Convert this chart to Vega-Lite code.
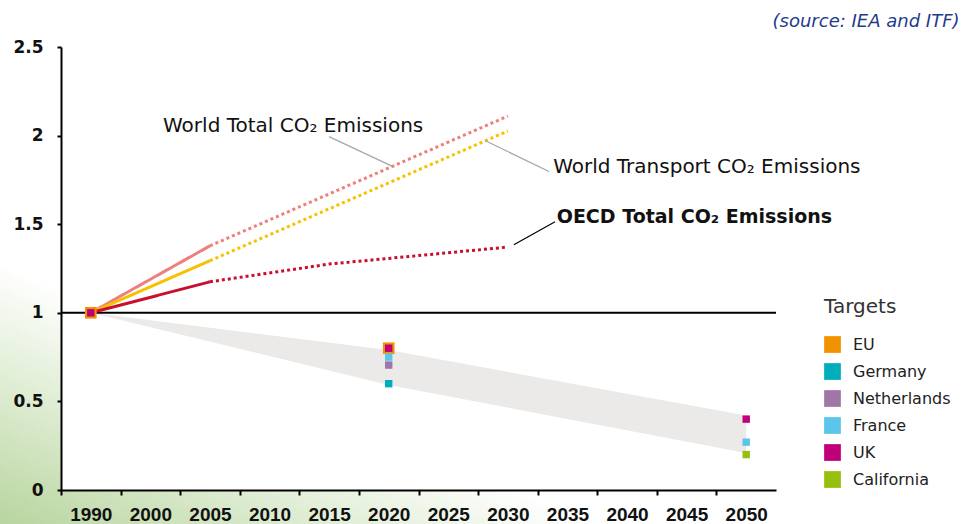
{
  "$schema": "https://vega.github.io/schema/vega-lite/v6.json",
  "width": 715,
  "height": 443,
  "autosize": {"type": "none"},
  "padding": {"left": 61, "top": 47, "right": 203, "bottom": 34},
  "background": "#ffffff",
  "config": {
    "view": {"stroke": null},
    "font": "DejaVu Sans"
  },
  "datasets": {
    "lines": [
      {"series": "World Total", "seg": "solid", "year": 1990, "value": 1.0},
      {"series": "World Total", "seg": "solid", "year": 2005, "value": 1.378},
      {"series": "World Total", "seg": "dotted", "year": 2005, "value": 1.378},
      {"series": "World Total", "seg": "dotted", "year": 2030, "value": 2.11},
      {"series": "World Transport", "seg": "solid", "year": 1990, "value": 1.0},
      {"series": "World Transport", "seg": "solid", "year": 2005, "value": 1.294},
      {"series": "World Transport", "seg": "dotted", "year": 2005, "value": 1.294},
      {"series": "World Transport", "seg": "dotted", "year": 2030, "value": 2.026},
      {"series": "OECD Total", "seg": "solid", "year": 1990, "value": 1.0},
      {"series": "OECD Total", "seg": "solid", "year": 2005, "value": 1.175},
      {"series": "OECD Total", "seg": "dotted", "year": 2005, "value": 1.175},
      {"series": "OECD Total", "seg": "dotted", "year": 2015, "value": 1.275},
      {"series": "OECD Total", "seg": "dotted", "year": 2030, "value": 1.371}
    ],
    "band": [
      {"year": 1990, "lo": 1.0, "hi": 1.0},
      {"year": 2020, "lo": 0.593, "hi": 0.79},
      {"year": 2050, "lo": 0.209, "hi": 0.42}
    ],
    "targets": [
      {"target": "EU", "year": 1990, "value": 1.0},
      {"target": "EU", "year": 2020, "value": 0.8},
      {"target": "UK", "year": 1990, "value": 1.0},
      {"target": "UK", "year": 2020, "value": 0.8},
      {"target": "France", "year": 2020, "value": 0.75},
      {"target": "Netherlands", "year": 2020, "value": 0.705},
      {"target": "Germany", "year": 2020, "value": 0.6},
      {"target": "UK", "year": 2050, "value": 0.4},
      {"target": "France", "year": 2050, "value": 0.27},
      {"target": "California", "year": 2050, "value": 0.2}
    ],
    "labels": [
      {"series": "World Total", "label": "World Total CO₂ Emissions", "year": 2001.06, "value": 2.022},
      {"series": "World Transport", "label": "World Transport CO₂ Emissions", "year": 2033.8, "value": 1.787},
      {"series": "OECD Total", "label": "OECD Total CO₂ Emissions", "year": 2034.1, "value": 1.507}
    ],
    "leaders": [
      {"series": "World Total", "year": 2014.99, "value": 1.994, "year2": 2020.36, "value2": 1.825},
      {"series": "World Transport", "year": 2028.08, "value": 1.972, "year2": 2033.45, "value2": 1.797},
      {"series": "OECD Total", "year": 2030.5, "value": 1.384, "year2": 2033.96, "value2": 1.514}
    ]
  },
  "layer": [
    {
      "data": {"values": [{}]},
      "mark": {
        "type": "rect",
        "clip": false,
        "fill": {
          "gradient": "linear",
          "x1": 0, "y1": 1,
          "x2": 1, "y2": 0,
          "stops": [
            {"offset": 0, "color": "#b7d49d"},
            {"offset": 0.25, "color": "#dcebcf"},
            {"offset": 0.5, "color": "#ffffff"}
          ]
        }
      },
      "encoding": {
        "x": {
          "datum": 1974,
          "type": "quantitative",
          "scale": {"domain": [1985, 1990, 2000, 2052.5], "range": [0, 29.79, 89.375, 715], "nice": false, "zero": false},
          "axis": {
            "title": null,
            "zindex": 2,
            "values": [1990, 2000, 2005, 2010, 2015, 2020, 2025, 2030, 2035, 2040, 2045, 2050, 2055],
            "labelExpr": "datum.value <= 2050 ? '' + datum.value : ''",
            "ticks": true,
            "tickOffset": -29.79,
            "labelOffset": 29.79,
            "tickSize": 5,
            "tickWidth": 2,
            "tickColor": "#000000",
            "domainColor": "#000000",
            "domainWidth": 2,
            "grid": false,
            "labelFont": "Liberation Sans",
            "labelFontWeight": "bold",
            "labelFontSize": 19,
            "labelColor": "#111111",
            "labelPadding": 10,
            "labelOverlap": false,
            "labelFlush": false,
            "labelBound": false
          }
        },
        "x2": {"datum": 2037.7},
        "y": {
          "datum": -0.2,
          "type": "quantitative",
          "scale": {"domain": [0, 2.5], "nice": false, "zero": false},
          "axis": {
            "title": null,
            "zindex": 2,
            "values": [0, 0.5, 1, 1.5, 2, 2.5],
            "format": "~g",
            "ticks": true,
            "tickSize": 4,
            "tickWidth": 2,
            "tickColor": "#000000",
            "domainColor": "#000000",
            "domainWidth": 2,
            "grid": false,
            "labelFont": "DejaVu Sans",
            "labelFontSize": 17,
            "labelFontWeight": "bold",
            "labelColor": "#111111",
            "labelPadding": 14
          }
        },
        "y2": {"datum": 1.3}
      }
    },
    {
      "data": {"values": [{}]},
      "mark": {"type": "rect", "fill": "#ffffff"},
      "encoding": {
        "x": {"datum": 1985, "type": "quantitative"},
        "x2": {"datum": 2052.5},
        "y": {"datum": 0, "type": "quantitative"},
        "y2": {"datum": 2.5}
      }
    },
    {
      "data": {"name": "band"},
      "mark": {"type": "area", "color": "#ebeae8", "opacity": 1},
      "encoding": {
        "x": {"field": "year", "type": "quantitative"},
        "y": {"field": "hi", "type": "quantitative"},
        "y2": {"field": "lo"}
      }
    },
    {
      "data": {"values": [{}]},
      "mark": {"type": "rule", "color": "#000000", "strokeWidth": 2},
      "encoding": {"y": {"datum": 1, "type": "quantitative"}}
    },
    {
      "data": {"name": "lines"},
      "mark": {"type": "line", "strokeWidth": 3, "strokeCap": "butt"},
      "encoding": {
        "x": {"field": "year", "type": "quantitative"},
        "y": {"field": "value", "type": "quantitative"},
        "stroke": {
          "field": "series",
          "type": "nominal",
          "scale": {"domain": ["World Total", "World Transport", "OECD Total"], "range": ["#ef7f7c", "#f8c100", "#c8102e"]},
          "legend": null
        },
        "strokeDash": {
          "field": "seg",
          "type": "nominal",
          "scale": {"domain": ["solid", "dotted"], "range": [[1, 0], [3, 3]]},
          "legend": null
        }
      }
    },
    {
      "data": {"name": "leaders"},
      "mark": {"type": "rule", "strokeWidth": 1.2},
      "encoding": {
        "x": {"field": "year", "type": "quantitative"},
        "x2": {"field": "year2"},
        "y": {"field": "value", "type": "quantitative"},
        "y2": {"field": "value2"},
        "color": {"condition": {"test": "datum.series == 'OECD Total'", "value": "#000000"}, "value": "#a6a6a6"}
      }
    },
    {
      "data": {"name": "targets"},
      "transform": [{"filter": "datum.target == 'EU'"}],
      "mark": {"type": "square", "size": 135, "opacity": 1},
      "encoding": {
        "x": {"field": "year", "type": "quantitative"},
        "y": {"field": "value", "type": "quantitative"},
        "color": {
          "field": "target",
          "type": "nominal",
          "scale": {
            "domain": ["EU", "Germany", "Netherlands", "France", "UK", "California"],
            "range": ["#f39200", "#00adbb", "#a076a8", "#5bc5ec", "#c0007a", "#97bf0d"]
          },
          "legend": {
            "title": "Targets",
            "orient": "none",
            "legendX": 763,
            "legendY": 250,
            "padding": 0,
            "titleFont": "DejaVu Sans",
            "titleFontSize": 20,
            "titleFontWeight": "normal",
            "titleColor": "#333333",
            "titlePadding": 19,
            "labelFont": "DejaVu Sans",
            "labelFontSize": 16,
            "labelColor": "#222222",
            "labelOffset": 12,
            "symbolType": "square",
            "symbolSize": 280,
            "symbolStrokeWidth": 0,
            "symbolOpacity": 1,
            "rowPadding": 10
          }
        }
      }
    },
    {
      "data": {"name": "targets"},
      "transform": [{"filter": "datum.target != 'EU'"}],
      "mark": {"type": "square", "size": 55, "opacity": 1},
      "encoding": {
        "x": {"field": "year", "type": "quantitative"},
        "y": {"field": "value", "type": "quantitative"},
        "color": {"field": "target", "type": "nominal"}
      }
    },
    {
      "data": {"name": "labels"},
      "transform": [{"filter": "datum.series != 'OECD Total'"}],
      "mark": {"type": "text", "align": "left", "baseline": "alphabetic", "font": "DejaVu Sans", "fontSize": 20, "color": "#111111"},
      "encoding": {
        "x": {"field": "year", "type": "quantitative"},
        "y": {"field": "value", "type": "quantitative"},
        "text": {"field": "label"}
      }
    },
    {
      "data": {"name": "labels"},
      "transform": [{"filter": "datum.series == 'OECD Total'"}],
      "mark": {"type": "text", "align": "left", "baseline": "alphabetic", "font": "DejaVu Sans", "fontSize": 19, "fontWeight": "bold", "color": "#111111"},
      "encoding": {
        "x": {"field": "year", "type": "quantitative"},
        "y": {"field": "value", "type": "quantitative"},
        "text": {"field": "label"}
      }
    },
    {
      "data": {"values": [{"label": "(source: IEA and ITF)"}]},
      "mark": {"type": "text", "align": "right", "baseline": "alphabetic", "font": "DejaVu Sans", "fontSize": 18, "fontStyle": "italic", "color": "#1f3b8a", "clip": false},
      "encoding": {
        "x": {"datum": 2067.9, "type": "quantitative"},
        "y": {"datum": 2.613, "type": "quantitative"},
        "text": {"field": "label"}
      }
    }
  ]
}
